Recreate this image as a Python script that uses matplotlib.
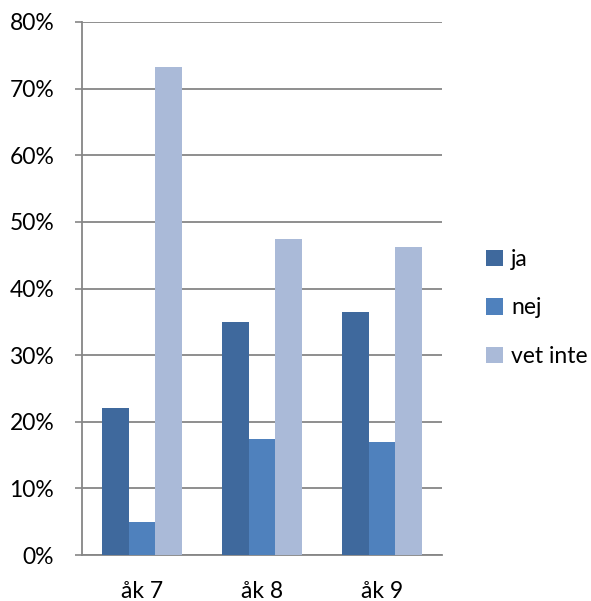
import matplotlib
matplotlib.use("Agg")
import matplotlib.pyplot as plt
import numpy as np
from matplotlib.patches import Patch

categories = ["åk 7", "åk 8", "åk 9"]
series_names = ["ja", "nej", "vet inte"]
ja = [22.0, 35.0, 36.5]
nej = [4.9, 17.4, 17.0]
vet_inte = [73.2, 47.5, 46.3]
yticks = [0, 10, 20, 30, 40, 50, 60, 70, 80]

colors = ["#3F699D", "#4F81BD", "#AABAD8"]

plt.rcParams['font.family'] = ['Lato', 'DejaVu Sans']

fig = plt.figure(figsize=(5.91, 6.01), dpi=100)
ax = fig.add_axes([82/591, 46/601, 360/591, 533/601])

x = np.arange(len(categories))
w = 0.2222
for i, (vals, c) in enumerate(zip([ja, nej, vet_inte], colors)):
    ax.bar(x + (i - 1) * w, vals, width=w, color=c, zorder=3, linewidth=0)

ax.set_xlim(-0.5, 2.5)
ax.set_ylim(0, 80)
ax.set_yticks(yticks)
ax.set_yticklabels([f"{v}%" for v in yticks], fontsize=16.5)
ax.set_xticks(x)
ax.set_xticklabels(categories, fontsize=16.5)
ax.tick_params(axis='x', length=0, pad=19)
ax.tick_params(axis='y', length=5, width=1.2, color="#868686", pad=15)
ax.yaxis.grid(True, color="#868686", linewidth=1.3, zorder=0)
for s in ["top", "right"]:
    ax.spines[s].set_visible(False)
for s in ["left", "bottom"]:
    ax.spines[s].set_color("#868686")
    ax.spines[s].set_linewidth(1.3)

handles = [Patch(facecolor=c, edgecolor='none') for c in colors]
fig.legend(handles, series_names, loc="center left", bbox_to_anchor=(486/591, 1 - 308/601),
           frameon=False, fontsize=16.5, handlelength=0.75, handleheight=0.75,
           handletextpad=0.35, labelspacing=1.2, borderpad=0, borderaxespad=0)

fig.savefig("out.png", dpi=100)
